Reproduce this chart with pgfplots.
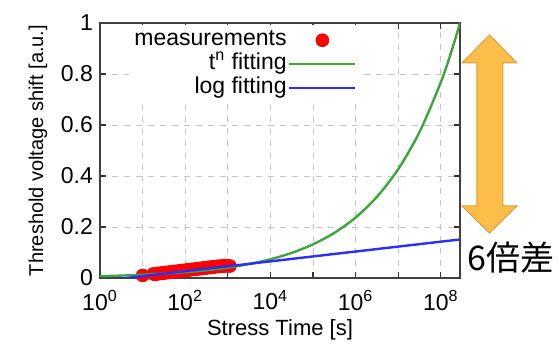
\documentclass[border=0pt]{standalone}
\usepackage{fontspec}
\setmainfont{Liberation Sans}
\newfontfamily\cjk{Noto Sans CJK JP}
\usepackage{pgfplots}
\pgfplotsset{compat=1.18}
\definecolor{fitgreen}{RGB}{60,165,60}
\definecolor{fitblue}{RGB}{45,45,250}
\definecolor{arrowfill}{RGB}{252,190,72}
\definecolor{arrowdraw}{RGB}{215,160,60}
\pgfplotsset{
 legline/.style={legend image code/.code={\draw[##1] (4pt,0pt) -- (37pt,0pt);}},
 legmark/.style={legend image code/.code={\draw[mark repeat=2,mark phase=2,##1] plot coordinates {(4pt,0pt) (20.5pt,0pt) (37pt,0pt)};}},
}
\begin{document}
\begin{tikzpicture}
\begin{axis}[name=ax, scale only axis, width=180pt, height=127.5pt,
 xmode=log, log basis x=10, xmin=1, xmax=2.818e8, ymin=0, ymax=1,
 xtick={1,10,100,1e3,1e4,1e5,1e6,1e7,1e8},
 xticklabels={10\textsuperscript{0},,10\textsuperscript{2},,10\textsuperscript{4},,10\textsuperscript{6},,10\textsuperscript{8}},
 xminorticks=false,
 ytick={0,0.2,0.4,0.6,0.8,1}, yticklabels={0,0.2,0.4,0.6,0.8,1},
 tick align=inside, major tick length=3pt,
 tick style={line width=0.6pt, black!80},
 grid=major, grid style={dashed, gray!45, line width=0.4pt},
 axis line style={line width=0.8pt, black!75},
 tick label style={font=\fontsize{11.5}{13}\selectfont},
 xticklabel style={yshift=-2.5pt},
 xlabel={Stress Time [s]}, ylabel={Threshold voltage shift [a.u.]},
 xlabel style={font=\fontsize{11}{13}\selectfont, yshift=2pt},
 ylabel style={font=\fontsize{10}{12}\selectfont},
 clip mode=individual,
 legend style={at={(0.725,0.995)}, anchor=north east, draw=none, fill=white,
   font=\fontsize{11.5}{12}\selectfont, row sep=0.3pt, inner sep=2pt,
   nodes={inner sep=0.8pt, text height=7.6pt, text depth=2.4pt}},
 legend cell align=right, legend plot pos=right,
]
\addplot[only marks, mark=*, mark size=3.2pt, color=red, legmark]
 coordinates {
 (10,0.010) (17.8,0.016) (20,0.014) (22.4,0.018) (25.1,0.017) (28.2,0.020)
 (31.6,0.019) (35.5,0.022) (39.8,0.021) (44.7,0.024) (50.1,0.023) (56.2,0.026)
 (63.1,0.025) (70.8,0.028) (79.4,0.027) (89.1,0.030) (100,0.029) (112,0.032)
 (126,0.031) (141,0.034) (158,0.033) (178,0.036) (200,0.035) (224,0.038)
 (251,0.037) (282,0.040) (316,0.039) (355,0.042) (398,0.041) (447,0.044)
 (501,0.043) (562,0.046) (631,0.045) (708,0.047) (794,0.046) (891,0.049)
 (1000,0.048) (1122,0.047)
 };
\addlegendentry{measurements}
\addplot[fitgreen, line width=1.2pt, smooth, legline]
 coordinates {
 (1,0.0070) (3.162,0.0094) (10,0.0126) (31.62,0.0169) (100,0.0227) (316.2,0.0304)
 (1000,0.0407) (3162,0.0547) (1e4,0.0733) (3.162e4,0.0984) (1e5,0.1319)
 (3.162e5,0.1769) (1e6,0.2372) (3.162e6,0.3182) (1e7,0.4267) (3.162e7,0.5723)
 (1e8,0.7672) (1.778e8,0.8890) (2.818e8,1.0)
 };
\addlegendentry{t\textsuperscript{n} fitting}
\addplot[fitblue, line width=1.2pt, legline]
 coordinates {
 (1,-0.012) (100,0.0266) (1e4,0.0652) (1e6,0.1038) (1e8,0.1424) (2.818e8,0.151)
 };
\addlegendentry{log fitting}
\end{axis}
\begin{scope}[shift={(ax.south east)}]
\fill[arrowfill, draw=arrowdraw, line width=0.5pt]
 (14.75pt,121.5pt) -- (28.5pt,107.5pt) -- (21.5pt,107.5pt) -- (21.5pt,36pt) -- (28.5pt,36pt)
 -- (14.75pt,22.5pt) -- (1pt,36pt) -- (8.5pt,36pt) -- (8.5pt,107.5pt) -- (1pt,107.5pt) -- cycle;
\node[anchor=west, inner sep=0pt, font=\cjk\fontsize{17}{19}\selectfont] at (3.5pt,10pt) {6倍差};
\end{scope}
\path[use as bounding box] ([shift={(-50pt,-30pt)}]ax.south west) rectangle ([shift={(229pt,139pt)}]ax.south west);
\end{tikzpicture}
\end{document}
